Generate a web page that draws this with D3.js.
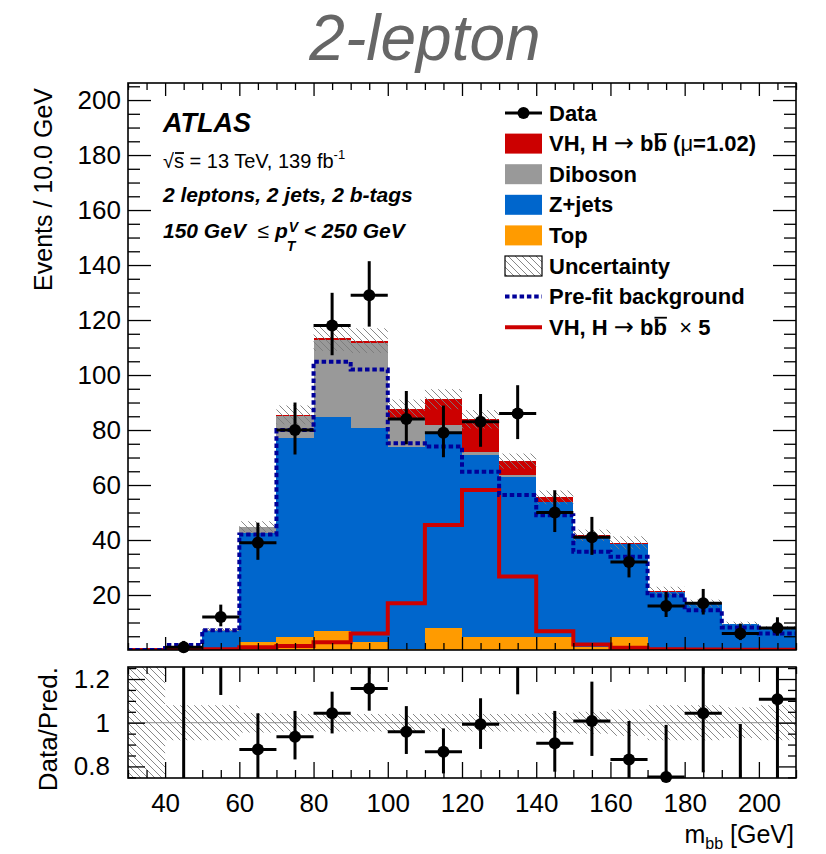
<!DOCTYPE html>
<html><head><meta charset="utf-8">
<script src="https://cdn.jsdelivr.net/npm/d3@7"></script>
<style>
body{margin:0;background:#fff}
svg{display:block}
text{font-family:"Liberation Sans",Arial,Helvetica,sans-serif}
</style>
</head><body>
<svg id="c" width="826" height="854"></svg>
<script>
// ---------------- DATA ----------------
const binEdges = [30,40,50,60,70,80,90,100,110,120,130,140,150,160,170,180,190,200,210];
const topBkg   = [0,0.2,0.3,3.0,4.8,7.0,2.8,0.3,7.9,4.8,4.8,4.8,1.0,4.8,0.3,0.3,0.2,0.2];
const zjets    = [0,0.8,6.7,39.4,72.2,77.8,77.8,73.7,70.6,66.1,58.2,48.9,40.0,33.6,20.7,16.4,9.3,7.7];
const diboson  = [0,0.1,0.3,2.2,8.2,28.0,30.9,10.2,3.3,1.2,0.5,0.3,0.3,0.3,0.2,0.2,0.1,0.1];
const signalVH = [0,0.05,0.05,0.2,0.3,0.5,1.0,3.4,9.4,11.8,5.2,1.5,0.4,0.3,0.1,0.05,0.02,0.02];
const prefitBkg= [0,1.8,7.2,42.0,80.0,104.8,102.0,75.2,74.0,64.8,56.4,49.0,35.7,33.9,19.8,14.5,8.2,6.0];
const signalX5 = [0,0.3,0.3,1.0,1.5,2.8,6.0,17.0,45.5,58.2,26.7,6.8,2.0,0.8,0.3,0.2,0.1,0.1];
const uncRel   = [1.0,0.08,0.08,0.045,0.04,0.04,0.04,0.04,0.04,0.04,0.04,0.045,0.05,0.06,0.08,0.08,0.07,0.08];

const dataX      = [45,55,65,75,85,95,105,115,125,135,145,155,165,175,185,195,205];
const dataY      = [1,12,39,80,118,129,84,79,83,86,50,41,32,16,17,6,8];
const dataErrUp  = [2.3,4.5,7.3,10.0,11.9,12.4,10.2,9.9,10.1,10.3,8.1,7.4,6.7,5.1,5.2,3.6,3.9];
const dataErrDn  = [0.8,3.4,6.2,8.9,10.8,11.4,9.2,8.9,9.1,9.3,7.1,6.4,5.6,4.0,4.1,2.4,2.8];

const ratioVal   = [0.6,1.5,0.878,0.936,1.043,1.157,0.959,0.867,0.993,1.26,0.906,1.008,0.832,0.752,1.043,0.63,1.107];
const ratioErrUp = [1.5,0.40,0.165,0.118,0.099,0.12,0.117,0.107,0.119,0.14,0.148,0.18,0.176,0.238,0.30,0.364,0.40];
const ratioErrDn = [0.6,0.373,0.17,0.104,0.092,0.102,0.102,0.099,0.113,0.13,0.13,0.16,0.16,0.20,0.27,0.30,0.40];

const xMajor = [40,60,80,100,120,140,160,180,200];
const yMajor = [20,40,60,80,100,120,140,160,180,200];
const rMajor = [0.8,1.0,1.2];
const rLabels = ["0.8","1","1.2"];

// ---------------- LAYOUT ----------------
const L=128, R=796, mainTop=83, mainBot=650, ratTop=667, ratBot=778;
const FONT = '"Liberation Sans",Arial,Helvetica,sans-serif';
const COL = {top:'#ff9b00', zjets:'#0066cc', diboson:'#999999', signal:'#cc0000'};

const x  = d3.scaleLinear().domain([30,210]).range([L,R]);
const y  = d3.scaleLinear().domain([0,206.2]).range([mainBot,mainTop]);
const yr = d3.scaleLinear().domain([0.747,1.255]).range([ratBot,ratTop]);

const svg = d3.select('#c');
svg.append('rect').attr('width',826).attr('height',854).attr('fill','#fff');
const defs = svg.append('defs');
const pat = defs.append('pattern').attr('id','hatch').attr('patternUnits','userSpaceOnUse')
  .attr('width',7).attr('height',7);
pat.append('path').attr('d','M-1,-1L8,8M-1,6L1,8M6,-1L8,1').attr('stroke','#7a7a7a').attr('stroke-width',0.9);
defs.append('clipPath').attr('id','clipMain').append('rect')
  .attr('x',L).attr('y',mainTop).attr('width',R-L).attr('height',mainBot-mainTop);
defs.append('clipPath').attr('id','clipRat').append('rect')
  .attr('x',L).attr('y',ratTop).attr('width',R-L).attr('height',ratBot-ratTop);

// ---------------- MAIN PANEL ----------------
const table = binEdges.slice(0,-1).map((lo,i)=>({lo, hi:binEdges[i+1],
  top:topBkg[i], zjets:zjets[i], diboson:diboson[i], signal:signalVH[i]}));
const keys = ['top','zjets','diboson','signal'];
const series = d3.stack().keys(keys)(table);

const gMain = svg.append('g').attr('clip-path','url(#clipMain)');
series.forEach(s=>{
  gMain.append('g').selectAll('rect').data(s).join('rect')
    .attr('x',d=>x(d.data.lo)).attr('width',d=>x(d.data.hi)-x(d.data.lo))
    .attr('y',d=>y(d[1])).attr('height',d=>Math.max(0,y(d[0])-y(d[1])))
    .attr('fill',COL[s.key]).attr('shape-rendering','crispEdges');
});
const totals = series[series.length-1].map(d=>d[1]);
gMain.append('g').selectAll('rect').data(table).join('rect')
  .attr('x',d=>x(d.lo)).attr('width',d=>x(d.hi)-x(d.lo))
  .attr('y',(d,i)=>y(totals[i]*(1+uncRel[i])))
  .attr('height',(d,i)=>y(totals[i]*(1-uncRel[i]))-y(totals[i]*(1+uncRel[i])))
  .attr('fill','url(#hatch)');

const stepPts = arr => table.flatMap((b,i)=>[[b.lo,arr[i]],[b.hi,arr[i]]]);
const line = d3.line().x(d=>x(d[0])).y(d=>y(d[1]));
gMain.append('path').attr('d',line(stepPts(signalX5))).attr('fill','none')
  .attr('stroke','#cc0000').attr('stroke-width',4);
gMain.append('path').attr('d',line(stepPts(prefitBkg))).attr('fill','none')
  .attr('stroke','#000099').attr('stroke-width',4).attr('stroke-dasharray','4.5 2.8');

// data
const gData = svg.append('g');
dataX.forEach((cx,i)=>{
  const g = gData.append('g');
  g.append('line').attr('x1',x(cx-5)).attr('x2',x(cx+5)).attr('y1',y(dataY[i])).attr('y2',y(dataY[i]))
    .attr('stroke','#000').attr('stroke-width',3);
  g.append('line').attr('x1',x(cx)).attr('x2',x(cx)).attr('y1',y(dataY[i]+dataErrUp[i])).attr('y2',y(Math.max(0,dataY[i]-dataErrDn[i])))
    .attr('stroke','#000').attr('stroke-width',3);
  g.append('circle').attr('cx',x(cx)).attr('cy',y(dataY[i])).attr('r',6).attr('fill','#000');
});

// ---------------- RATIO PANEL ----------------
const gRat = svg.append('g').attr('clip-path','url(#clipRat)');
gRat.append('g').selectAll('rect').data(table).join('rect')
  .attr('x',d=>x(d.lo)).attr('width',d=>x(d.hi)-x(d.lo))
  .attr('y',(d,i)=>yr(1+uncRel[i])).attr('height',(d,i)=>yr(1-uncRel[i])-yr(1+uncRel[i]))
  .attr('fill','url(#hatch)');
gRat.append('line').attr('x1',L).attr('x2',R).attr('y1',yr(1)).attr('y2',yr(1))
  .attr('stroke','#8c8c8c').attr('stroke-width',1);
dataX.forEach((cx,i)=>{
  gRat.append('line').attr('x1',x(cx-5)).attr('x2',x(cx+5)).attr('y1',yr(ratioVal[i])).attr('y2',yr(ratioVal[i]))
    .attr('stroke','#000').attr('stroke-width',3);
  gRat.append('line').attr('x1',x(cx)).attr('x2',x(cx)).attr('y1',yr(ratioVal[i]+ratioErrUp[i])).attr('y2',yr(ratioVal[i]-ratioErrDn[i]))
    .attr('stroke','#000').attr('stroke-width',3);
});
dataX.forEach((cx,i)=>{
  const v = ratioVal[i];
  if (v >= 0.745 && v <= 1.255)
    svg.append('circle').attr('cx',x(cx)).attr('cy',yr(v)).attr('r',6).attr('fill','#000');
});

// ---------------- AXES ----------------
const xMinor = d3.range(30,211,5).filter(v=>!xMajor.includes(v));
const yMinor = d3.range(5,206,5).filter(v=>!yMajor.includes(v));
const rMinor = d3.range(0.75,1.26,0.05).map(v=>+v.toFixed(2)).filter(v=>!rMajor.some(m=>Math.abs(m-v)<1e-6));

function axisG(axis, tx, ty){
  const g = svg.append('g').attr('transform',`translate(${tx},${ty})`).call(axis);
  g.select('.domain').remove();
  g.selectAll('.tick line').attr('stroke','#000').attr('stroke-width',1.3);
  g.selectAll('text').attr('font-family',FONT).attr('font-size',26).attr('fill','#000');
  return g;
}
// main x ticks
axisG(d3.axisBottom(x).tickValues(xMajor).tickSize(-13).tickFormat(''),0,mainBot);
axisG(d3.axisBottom(x).tickValues(xMinor).tickSize(-7).tickFormat(''),0,mainBot);
axisG(d3.axisTop(x).tickValues(xMajor).tickSize(-13).tickFormat(''),0,mainTop);
axisG(d3.axisTop(x).tickValues(xMinor).tickSize(-7).tickFormat(''),0,mainTop);
// main y ticks
axisG(d3.axisLeft(y).tickValues(yMajor).tickSize(-23).tickPadding(7).tickFormat(d3.format('d')),L,0);
axisG(d3.axisLeft(y).tickValues(yMinor).tickSize(-12).tickFormat(''),L,0);
axisG(d3.axisRight(y).tickValues(yMajor).tickSize(-23).tickFormat(''),R,0);
axisG(d3.axisRight(y).tickValues(yMinor).tickSize(-12).tickFormat(''),R,0);
// ratio x ticks
axisG(d3.axisBottom(x).tickValues(xMajor).tickSize(-16).tickPadding(16).tickFormat(d3.format('d')),0,ratBot);
axisG(d3.axisBottom(x).tickValues(xMinor).tickSize(-8).tickFormat(''),0,ratBot);
axisG(d3.axisTop(x).tickValues(xMajor).tickSize(-15).tickFormat(''),0,ratTop);
axisG(d3.axisTop(x).tickValues(xMinor).tickSize(-7).tickFormat(''),0,ratTop);
// ratio y ticks
axisG(d3.axisLeft(yr).tickValues(rMajor).tickSize(-17).tickPadding(18).tickFormat((d,i)=>rLabels[i]),L,0);
axisG(d3.axisLeft(yr).tickValues(rMinor).tickSize(-8).tickFormat(''),L,0);
axisG(d3.axisRight(yr).tickValues(rMajor).tickSize(-17).tickFormat(''),R,0);
axisG(d3.axisRight(yr).tickValues(rMinor).tickSize(-8).tickFormat(''),R,0);

// frames
svg.append('rect').attr('x',L).attr('y',mainTop).attr('width',R-L).attr('height',mainBot-mainTop)
  .attr('fill','none').attr('stroke','#000').attr('stroke-width',1.6);
svg.append('rect').attr('x',L).attr('y',ratTop).attr('width',R-L).attr('height',ratBot-ratTop)
  .attr('fill','none').attr('stroke','#000').attr('stroke-width',1.6);

// ---------------- TEXT ----------------
function rich(parent, xx, yy, segs, base){
  const t = parent.append('text').attr('x',xx).attr('y',yy).attr('font-family',FONT)
    .style('white-space','pre');
  Object.entries(base||{}).forEach(([k,v])=>t.attr(k,v));
  let idx=0; const bars=[];
  segs.forEach(s=>{
    const ts = t.append('tspan').text(s.t);
    if(s.w) ts.attr('font-weight',s.w);
    if(s.st) ts.attr('font-style',s.st);
    if(s.fs) ts.attr('font-size',s.fs);
    if(s.ff) ts.attr('font-family',s.ff);
    if(s.dy) ts.attr('dy',s.dy);
    if(s.bar) bars.push({idx, fs:s.barH});
    idx += [...s.t].length;
  });
  const node = t.node();
  bars.forEach(b=>{
    const s = node.getStartPositionOfChar(b.idx), e = node.getEndPositionOfChar(b.idx);
    parent.append('line').attr('x1',s.x+1).attr('x2',e.x).attr('y1',s.y-b.fs).attr('y2',s.y-b.fs)
      .attr('stroke','#000').attr('stroke-width',1.8);
  });
  return t;
}

// title
svg.append('text').attr('x',425).attr('y',60).attr('text-anchor','middle')
  .attr('font-family',FONT).attr('font-style','italic').attr('font-size',64).attr('fill','#666')
  .text('2-lepton');

// axis titles
svg.append('text').attr('transform','translate(52,88) rotate(-90)').attr('text-anchor','end')
  .attr('font-family',FONT).attr('font-size',25).text('Events / 10.0 GeV');
svg.append('text').attr('transform','translate(57,667) rotate(-90)').attr('text-anchor','end')
  .attr('font-family',FONT).attr('font-size',26).text('Data/Pred.');
rich(svg, 794, 843, [{t:'m'},{t:'bb',fs:16,dy:6},{t:' [GeV]',fs:25,dy:-6}],
  {'font-size':25,'text-anchor':'end'});

// ATLAS labels
svg.append('text').attr('x',163).attr('y',132).attr('font-family',FONT).attr('font-weight','bold')
  .attr('font-style','italic').attr('font-size',27).text('ATLAS');
rich(svg, 163, 168, [{t:'√'},{t:'s',bar:true,barH:15},{t:' = 13 TeV, 139 fb'},{t:'-1',fs:13,dy:-9}],
  {'font-size':20});
svg.append('text').attr('x',163).attr('y',202).attr('font-family',FONT).attr('font-weight','bold')
  .attr('font-style','italic').attr('font-size',21).text('2 leptons, 2 jets, 2 b-tags');
const pt = rich(svg, 163, 238, [{t:'150 GeV\u00a0\u00a0'},{t:'≤',w:'normal',st:'normal'},{t:'\u00a0p'}],
  {'font-size':21,'font-weight':'bold','font-style':'italic'});
const pend = pt.node().getComputedTextLength();
svg.append('text').attr('x',163+pend+1).attr('y',232).attr('font-family',FONT).attr('font-weight','bold')
  .attr('font-style','italic').attr('font-size',14).text('V');
svg.append('text').attr('x',163+pend-1).attr('y',251).attr('font-family',FONT).attr('font-weight','bold')
  .attr('font-style','italic').attr('font-size',14).text('T');
svg.append('text').attr('x',163+pend+16).attr('y',238).attr('font-family',FONT).attr('font-weight','bold')
  .attr('font-style','italic').attr('font-size',21).text('< 250 GeV');

// ---------------- LEGEND ----------------
const ARROW = {t:'→',w:'normal',ff:'"DejaVu Sans",sans-serif',fs:24};
const legendItems = [
  {type:'data', segs:[{t:'Data'}]},
  {type:'box', color:COL.signal, segs:[{t:'VH, H '},ARROW,{t:' b'},{t:'b',bar:true,barH:17},{t:' ('},{t:'μ',w:'normal'},{t:'=1.02)'}]},
  {type:'box', color:COL.diboson, segs:[{t:'Diboson'}]},
  {type:'box', color:COL.zjets, segs:[{t:'Z+jets'}]},
  {type:'box', color:COL.top, segs:[{t:'Top'}]},
  {type:'hatch', segs:[{t:'Uncertainty'}]},
  {type:'dots', segs:[{t:'Pre-fit background'}]},
  {type:'line', segs:[{t:'VH, H '},ARROW,{t:' b'},{t:'b',bar:true,barH:17},{t:'\u00a0\u00a0'},{t:'×',w:'normal'},{t:' 5'}]}
];
const lgX0=505, lgX1=542, lgY0=113, lgDy=30.6;
const gLeg = svg.append('g');
legendItems.forEach((it,i)=>{
  const cy = lgY0 + i*lgDy;
  if(it.type==='data'){
    gLeg.append('line').attr('x1',lgX0).attr('x2',lgX1).attr('y1',cy).attr('y2',cy).attr('stroke','#000').attr('stroke-width',3);
    gLeg.append('circle').attr('cx',(lgX0+lgX1)/2).attr('cy',cy).attr('r',6).attr('fill','#000');
  } else if(it.type==='box'){
    gLeg.append('rect').attr('x',lgX0).attr('y',cy-10).attr('width',lgX1-lgX0).attr('height',20).attr('fill',it.color);
  } else if(it.type==='hatch'){
    gLeg.append('rect').attr('x',lgX0).attr('y',cy-10).attr('width',lgX1-lgX0).attr('height',20)
      .attr('fill','url(#hatch)').attr('stroke','#000').attr('stroke-width',1.2);
  } else if(it.type==='dots'){
    gLeg.append('line').attr('x1',lgX0).attr('x2',lgX1).attr('y1',cy).attr('y2',cy).attr('stroke','#000099')
      .attr('stroke-width',4).attr('stroke-dasharray','4.5 2.8');
  } else {
    gLeg.append('line').attr('x1',lgX0).attr('x2',lgX1).attr('y1',cy).attr('y2',cy).attr('stroke','#cc0000').attr('stroke-width',4);
  }
  rich(gLeg, 549, cy+7.5, it.segs, {'font-size':22,'font-weight':'bold'});
});
</script>
</body></html>
